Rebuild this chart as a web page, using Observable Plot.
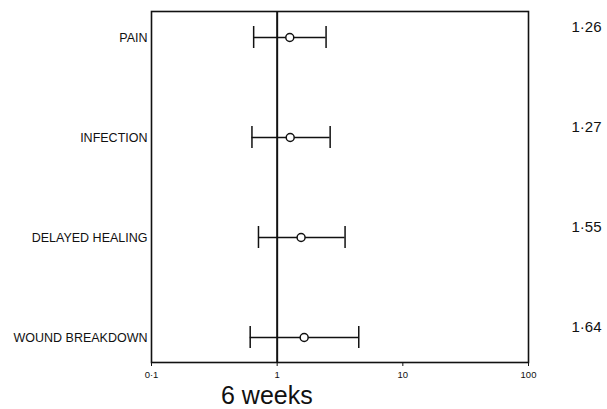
<!DOCTYPE html>
<html>
<head>
<meta charset="utf-8">
<script src="https://cdn.jsdelivr.net/npm/d3@7"></script>
<script src="https://cdn.jsdelivr.net/npm/@observablehq/plot@0.6"></script>
<style>
  html, body { margin: 0; padding: 0; background: #fff; }
  #wrap { width: 607px; height: 409px; position: relative; font-family: "Liberation Sans", Arial, sans-serif; }
  #caption { font-size: 25px; line-height: 24px; height: 24px; padding-left: 221px; color: #111; white-space: nowrap; }
</style>
</head>
<body>
<div id="wrap">
  <div id="chart"></div>
  <div id="caption">6 weeks</div>
</div>
<script>
// Data
const outcomes = ["PAIN", "INFECTION", "DELAYED HEALING", "WOUND BREAKDOWN"];
const oddsRatios = [1.26, 1.27, 1.55, 1.64];
const lowerCI = [0.65, 0.63, 0.71, 0.61];
const upperCI = [2.45, 2.64, 3.47, 4.46];
const valueLabels = ["1·26", "1·27", "1·55", "1·64"];
const xTicks = [0.1, 1, 10, 100];
const xTickLabels = ["0·1", "1", "10", "100"];

const rows = outcomes.map((o, i) => ({
  outcome: o, or: oddsRatios[i], lo: lowerCI[i], hi: upperCI[i], label: valueLabels[i]
}));

const chart = Plot.plot({
  width: 607,
  height: 383,
  marginLeft: 151,
  marginRight: 79,
  marginTop: 11,
  marginBottom: 21,
  style: { fontFamily: "'Liberation Sans', Arial, sans-serif", color: "#111", background: "#fff" },
  x: { type: "log", domain: [0.1, 100] },
  y: { type: "band", domain: outcomes, paddingInner: 0.7815, paddingOuter: 0.134 },
  marks: [
    Plot.axisX({
      ticks: xTicks,
      tickFormat: d => xTickLabels[xTicks.indexOf(d)],
      tickSize: 4,
      tickPadding: 5,
      fontSize: 9.5,
      label: null
    }),
    Plot.axisY({ tickSize: 0, tickPadding: 4, fontSize: 12.5, label: null }),
    Plot.frame({ stroke: "#111", strokeWidth: 1.6 }),
    Plot.ruleX([1], { stroke: "#111", strokeWidth: 2 }),
    Plot.ruleY(rows, { y: "outcome", x1: "lo", x2: "hi", stroke: "#111", strokeWidth: 1.5 }),
    Plot.tickX(rows, { x: "lo", y: "outcome", stroke: "#111", strokeWidth: 1.5 }),
    Plot.tickX(rows, { x: "hi", y: "outcome", stroke: "#111", strokeWidth: 1.5 }),
    Plot.dot(rows, { x: "or", y: "outcome", r: 4, fill: "#fff", stroke: "#111", strokeWidth: 1.5 }),
    Plot.text(rows, { y: "outcome", text: "label", frameAnchor: "right", textAnchor: "start", dx: 43, dy: -10, fontSize: 15, fill: "#111" })
  ]
});
document.getElementById("chart").appendChild(chart);
</script>
</body>
</html>
